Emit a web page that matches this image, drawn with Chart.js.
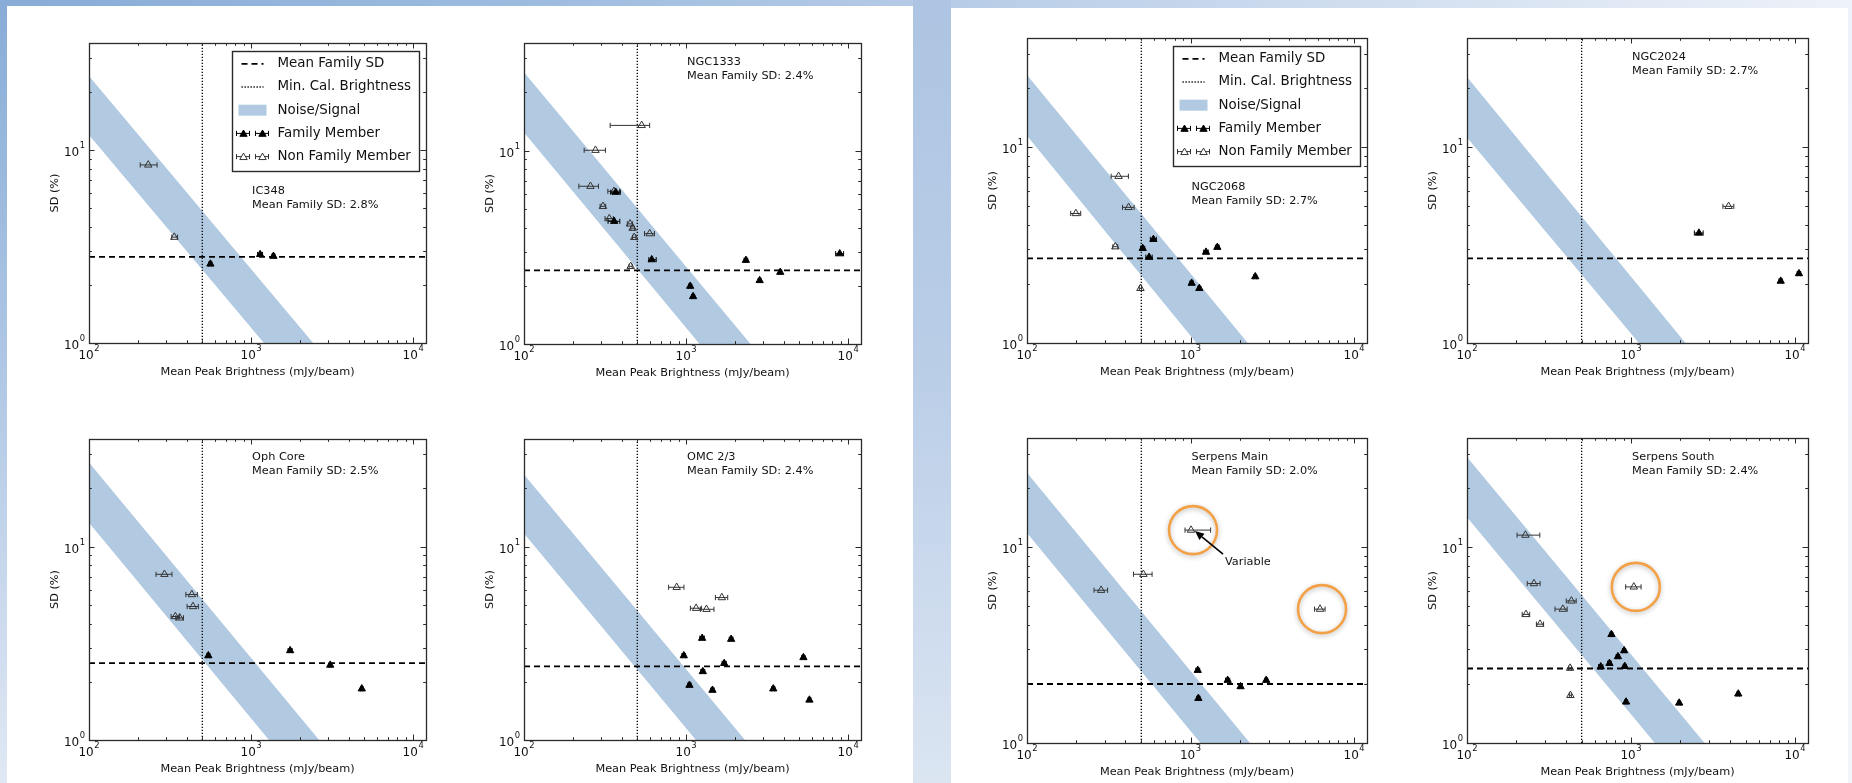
<!DOCTYPE html>
<html>
<head>
<meta charset="utf-8">
<title>Light-curve scatter by region</title>
<script src="https://cdn.jsdelivr.net/npm/chart.js@4.4.1/dist/chart.umd.min.js"></script>
<style>
  html, body { margin: 0; padding: 0; width: 1852px; height: 783px; overflow: hidden; }
  body {
    position: relative;
    background: linear-gradient(90deg, #88acd7 0%, #9dbbdf 28%, #b5cbe6 50%, #d2dff0 75%, #eef2f9 100%);
    font-family: "DejaVu Sans", sans-serif;
  }
  .strip, .sheet { position: absolute; }
  .sheet { background: #ffffff; }
  canvas { position: absolute; }
</style>
</head>
<body>
<div class="strip" style="left:0;top:0;width:7px;height:783px;background:linear-gradient(180deg,#88acd7 0%,#b2c9e5 50%,#e0e8f4 100%)"></div>
<div class="sheet" style="left:7px;top:6px;width:906px;height:777px"></div>
<div class="strip" style="left:913px;top:0;width:38px;height:783px;background:linear-gradient(180deg,#adc5e2 0%,#b9cde7 45%,#dbe5f2 100%)"></div>
<div class="sheet" style="left:951px;top:8px;width:897px;height:775px"></div>
<div class="strip" style="left:1848px;top:0;width:4px;height:783px;background:linear-gradient(180deg,#eef2f9,#f2f5fa)"></div>

<script>
// ---- shared values ----
const regionNames = ['IC348', 'NGC1333', 'NGC2068', 'NGC2024', 'Oph Core', 'OMC 2/3', 'Serpens Main', 'Serpens South'];
const meanFamilySD = [2.8, 2.4, 2.7, 2.7, 2.5, 2.4, 2.0, 2.4];
const minCalBrightness = 500;

// noise/signal band edges: SD at 100 mJy/beam and the brightness where SD reaches 1%
const bandUpperAt100 = [24.3, 25.4, 23.3, 22.8, 27.2, 23.6, 23.9, 28.8];
const bandUpperAtOne = [2415, 2500, 2240, 2150, 2630, 2310, 2310, 2810];
const bandLowerAt100 = [12.0, 12.4, 11.4, 11.2, 13.3, 11.7, 11.8, 14.2];
const bandLowerAtOne = [1200, 1211, 1087, 1117, 1290, 1150, 1150, 1397];

const xRange = [100, 12000];
const yRange = [1, 36];
const xTickValues = [100, 1000, 10000];
const xTickExponents = ['2', '3', '4'];
const yTickValues = [1, 10];
const yTickExponents = ['0', '1'];
const tickBase = '10';
const xAxisTitle = 'Mean Peak Brightness (mJy/beam)';
const yAxisTitle = 'SD (%)';
const legendLabels = ['Mean Family SD', 'Min. Cal. Brightness', 'Noise/Signal', 'Family Member', 'Non Family Member'];

// ---- per-region points: brightness (mJy/beam), SD (%), brightness error [minus, plus] ----
const ic348FamilyX = [561, 1137, 1374];
const ic348FamilyY = [2.57, 2.88, 2.82];
const ic348FamilyErr = [[12, 12], [40, 40], [30, 30]];
const ic348OtherX = [232, 336];
const ic348OtherY = [8.39, 3.54];
const ic348OtherErr = [[25, 31], [12, 16]];

const ngc1333FamilyX = [368, 360, 614, 1060, 1105, 2339, 2844, 3811, 8870];
const ngc1333FamilyY = [6.09, 4.31, 2.73, 1.99, 1.76, 2.71, 2.13, 2.35, 2.93];
const ngc1333FamilyErr = [[25, 25], [30, 30], [25, 40], [25, 25], [25, 25], [60, 60], [60, 60], [80, 80], [500, 500]];
const ngc1333OtherX = [532, 276, 257, 359, 307, 336, 451, 468, 479, 596, 455];
const ngc1333OtherY = [13.5, 10.04, 6.54, 6.16, 5.15, 4.45, 4.18, 3.97, 3.56, 3.72, 2.52];
const ngc1333OtherErr = [[192, 64], [41, 42], [39, 31], [30, 30], [12, 12], [20, 20], [17, 17], [12, 12], [12, 12], [42, 42], [10, 10]];

const ngc2068FamilyX = [510, 593, 558, 1244, 1459, 1016, 1132, 2488];
const ngc2068FamilyY = [3.04, 3.38, 2.74, 2.91, 3.08, 2.02, 1.90, 2.18];
const ngc2068FamilyErr = [[15, 15], [25, 25], [25, 25], [40, 40], [40, 40], [25, 25], [25, 25], [50, 50]];
const ngc2068OtherX = [199, 363, 418, 347, 494];
const ngc2068OtherY = [4.58, 7.09, 4.92, 3.10, 1.90];
const ngc2068OtherErr = [[14, 14], [36, 54], [34, 34], [12, 12], [8, 8]];

const ngc2024FamilyX = [2594, 8180, 10570];
const ngc2024FamilyY = [3.64, 2.07, 2.26];
const ngc2024FamilyErr = [[160, 160], [200, 200], [250, 250]];
const ngc2024OtherX = [3935];
const ngc2024OtherY = [4.98];
const ngc2024OtherErr = [[300, 300]];

const ophFamilyX = [545, 1742, 3077, 4820];
const ophFamilyY = [2.73, 2.90, 2.44, 1.84];
const ophFamilyErr = [[12, 12], [50, 50], [60, 60], [80, 80]];
const ophOtherX = [292, 431, 438, 341, 363];
const ophOtherY = [7.19, 5.65, 4.90, 4.35, 4.28];
const ophOtherErr = [[33, 33], [35, 35], [35, 35], [20, 20], [20, 20]];

const omcFamilyX = [1256, 1897, 968, 1718, 1268, 1049, 1455, 3451, 5296, 5768];
const omcFamilyY = [3.36, 3.32, 2.73, 2.49, 2.26, 1.92, 1.81, 1.84, 2.67, 1.61];
const omcFamilyErr = [[40, 40], [50, 50], [25, 25], [50, 50], [35, 35], [25, 25], [35, 35], [80, 80], [120, 120], [120, 120]];
const omcOtherX = [875, 1153, 1336, 1662];
const omcOtherY = [6.16, 4.80, 4.74, 5.45];
const omcOtherErr = [[95, 95], [90, 90], [110, 150], [145, 145]];

const serpMainFamilyX = [1107, 1117, 1687, 2023, 2904];
const serpMainFamilyY = [2.35, 1.69, 2.09, 1.94, 2.09];
const serpMainFamilyErr = [[30, 30], [25, 25], [50, 50], [40, 40], [60, 60]];
const serpMainOtherX = [1007, 284, 515, 6194];
const serpMainOtherY = [12.2, 6.02, 7.26, 4.82];
const serpMainOtherErr = [[82, 320], [27, 27], [67, 67], [460, 460]];

const serpSouthFamilyX = [760, 908, 832, 739, 654, 916, 933, 1967, 4510];
const serpSouthFamilyY = [3.58, 2.96, 2.76, 2.55, 2.45, 2.46, 1.62, 1.60, 1.78];
const serpSouthFamilyErr = [[15, 15], [20, 20], [20, 20], [20, 20], [20, 20], [20, 20], [15, 15], [40, 40], [80, 80]];
const serpSouthOtherX = [227, 256, 433, 384, 229, 279, 425, 427, 1040];
const serpSouthOtherY = [11.5, 6.51, 5.31, 4.82, 4.53, 4.04, 2.41, 1.75, 6.26];
const serpSouthOtherErr = [[25, 51], [23, 23], [30, 30], [40, 24], [12, 12], [14, 14], [8, 8], [6, 6], [112, 112]];

// highlighted non-family sources (index into the "Other" arrays)
const serpMainCircled = [0, 3];
const serpMainVariable = 0;
const serpSouthCircled = [8];

// ---- tables built from the arrays above ----
const familyX = [ic348FamilyX, ngc1333FamilyX, ngc2068FamilyX, ngc2024FamilyX, ophFamilyX, omcFamilyX, serpMainFamilyX, serpSouthFamilyX];
const familyY = [ic348FamilyY, ngc1333FamilyY, ngc2068FamilyY, ngc2024FamilyY, ophFamilyY, omcFamilyY, serpMainFamilyY, serpSouthFamilyY];
const familyErr = [ic348FamilyErr, ngc1333FamilyErr, ngc2068FamilyErr, ngc2024FamilyErr, ophFamilyErr, omcFamilyErr, serpMainFamilyErr, serpSouthFamilyErr];
const otherX = [ic348OtherX, ngc1333OtherX, ngc2068OtherX, ngc2024OtherX, ophOtherX, omcOtherX, serpMainOtherX, serpSouthOtherX];
const otherY = [ic348OtherY, ngc1333OtherY, ngc2068OtherY, ngc2024OtherY, ophOtherY, omcOtherY, serpMainOtherY, serpSouthOtherY];
const otherErr = [ic348OtherErr, ngc1333OtherErr, ngc2068OtherErr, ngc2024OtherErr, ophOtherErr, omcOtherErr, serpMainOtherErr, serpSouthOtherErr];

// ---- page layout: plot-area boxes on the slide ----
const panelBoxes = [
  { left: 89,   top: 43,  width: 337, height: 300, legend: true,  noteTop: 148 },
  { left: 524,  top: 43,  width: 337, height: 301, legend: false, noteTop: 19 },
  { left: 1027, top: 38,  width: 340, height: 305, legend: true,  noteTop: 149 },
  { left: 1467, top: 38,  width: 341, height: 305, legend: false, noteTop: 19 },
  { left: 89,   top: 439, width: 337, height: 301, legend: false, noteTop: 18 },
  { left: 524,  top: 439, width: 337, height: 301, legend: false, noteTop: 18 },
  { left: 1027, top: 438, width: 340, height: 305, legend: false, noteTop: 19 },
  { left: 1467, top: 438, width: 341, height: 305, legend: false, noteTop: 19 }
];

const FONT = '"DejaVu Sans", sans-serif';
const INK = '#111111';
const BAND = '#b2cae1';
const Y_AXIS_W = 50, X_AXIS_H = 45, PAD_T = 10, PAD_R = 14;

Chart.defaults.font.family = FONT;
Chart.defaults.color = INK;

function toPoints(xs, ys) { return xs.map((x, k) => ({ x: x, y: ys[k] })); }

// horizontal error bars drawn just before their markers
const errorBarPlugin = {
  id: 'errorBars',
  beforeDatasetDraw(chart, args) {
    const ds = chart.data.datasets[args.index];
    if (!ds.xErr) return;
    const { ctx, chartArea: a, scales: { x, y } } = chart;
    ctx.save();
    ctx.beginPath(); ctx.rect(a.left, a.top, a.right - a.left, a.bottom - a.top); ctx.clip();
    ctx.strokeStyle = ds.errColor; ctx.lineWidth = 1;
    ds.data.forEach((p, k) => {
      const e = ds.xErr[k];
      const x0 = x.getPixelForValue(p.x - e[0]);
      const x1 = x.getPixelForValue(p.x + e[1]);
      const py = y.getPixelForValue(p.y);
      ctx.beginPath();
      ctx.moveTo(x0, py); ctx.lineTo(x1, py);
      ctx.moveTo(x0, py - 2.6); ctx.lineTo(x0, py + 2.6);
      ctx.moveTo(x1, py - 2.6); ctx.lineTo(x1, py + 2.6);
      ctx.stroke();
    });
    ctx.restore();
  }
};

// power-of-ten label: base digits with a raised, smaller exponent
function drawPowerLabel(ctx, base, exp, anchorX, baselineY, align) {
  ctx.font = '12px ' + FONT;
  const wb = ctx.measureText(base).width;
  ctx.font = '8.4px ' + FONT;
  const we = ctx.measureText(exp).width;
  const total = wb + we + 0.5;
  const x0 = align === 'center' ? anchorX - total / 2 : anchorX - total;
  ctx.textAlign = 'left';
  ctx.textBaseline = 'alphabetic';
  ctx.font = '12px ' + FONT;
  ctx.fillText(base, x0, baselineY);
  ctx.font = '8.4px ' + FONT;
  ctx.fillText(exp, x0 + wb + 0.5, baselineY - 7.8);
}

// axes frame with inward major/minor ticks on all four sides, plus decade labels
const framePlugin = {
  id: 'axesFrame',
  afterDatasetsDraw(chart) {
    const { ctx, chartArea: a, scales: { x, y } } = chart;
    ctx.save();
    ctx.strokeStyle = '#2a2a2a'; ctx.lineWidth = 1;
    const xTicks = [], yTicks = [];
    for (let d = 100; d <= 10000; d *= 10) {
      for (let m = 1; m <= 9; m++) {
        const v = d * m;
        if (v >= xRange[0] && v <= xRange[1]) xTicks.push([v, m === 1]);
      }
    }
    for (let d = 1; d <= 10; d *= 10) {
      for (let m = 1; m <= 9; m++) {
        const v = d * m;
        if (v >= yRange[0] && v <= yRange[1]) yTicks.push([v, m === 1]);
      }
    }
    ctx.beginPath();
    xTicks.forEach(([v, major]) => {
      const px = Math.round(x.getPixelForValue(v)) + 0.5;
      const len = major ? 5.5 : 2.8;
      ctx.moveTo(px, a.bottom); ctx.lineTo(px, a.bottom - len);
      ctx.moveTo(px, a.top); ctx.lineTo(px, a.top + len);
    });
    yTicks.forEach(([v, major]) => {
      const py = Math.round(y.getPixelForValue(v)) + 0.5;
      const len = major ? 5.5 : 2.8;
      ctx.moveTo(a.left, py); ctx.lineTo(a.left + len, py);
      ctx.moveTo(a.right, py); ctx.lineTo(a.right - len, py);
    });
    ctx.stroke();
    ctx.lineWidth = 1.3;
    ctx.strokeRect(Math.round(a.left) + 0.5, Math.round(a.top) + 0.5, Math.round(a.right - a.left), Math.round(a.bottom - a.top));

    ctx.fillStyle = INK;
    xTickValues.forEach((v, k) => {
      drawPowerLabel(ctx, tickBase, xTickExponents[k], x.getPixelForValue(v), a.bottom + 15.5, 'center');
    });
    yTickValues.forEach((v, k) => {
      drawPowerLabel(ctx, tickBase, yTickExponents[k], a.left - 4, y.getPixelForValue(v) + 6, 'right');
    });
    ctx.restore();
  }
};

function drawTriangle(ctx, px, py, filled) {
  Chart.helpers.drawPoint(ctx, {
    pointStyle: 'triangle', radius: filled ? 4.2 : 4.3, rotation: 0,
    borderWidth: 1
  }, px, py);
}

function makeLegendPlugin() {
  return {
    id: 'slideLegend',
    afterDraw(chart) {
      const { ctx, chartArea: a } = chart;
      const w = 187, h = 120;
      const bx = Math.round(a.right - 7 - w) + 0.5, by = Math.round(a.top + 8) + 0.5;
      const rowY = k => by + 12.3 + k * 23.2;
      ctx.save();
      ctx.fillStyle = '#ffffff';
      ctx.fillRect(bx, by, w, h);
      ctx.strokeStyle = '#2a2a2a'; ctx.lineWidth = 1.4;
      ctx.strokeRect(bx, by, w, h);

      ctx.strokeStyle = '#000'; ctx.lineWidth = 1.8; ctx.setLineDash([6, 4]);
      ctx.beginPath(); ctx.moveTo(bx + 9, rowY(0)); ctx.lineTo(bx + 31, rowY(0)); ctx.stroke();
      ctx.lineWidth = 1.3; ctx.setLineDash([1.3, 1.7]);
      ctx.beginPath(); ctx.moveTo(bx + 9, rowY(1)); ctx.lineTo(bx + 31, rowY(1)); ctx.stroke();
      ctx.setLineDash([]);
      ctx.fillStyle = BAND;
      ctx.fillRect(bx + 6, rowY(2) - 5.5, 28, 11);

      [[3, true], [4, false]].forEach(([row, filled]) => {
        [bx + 11, bx + 30].forEach(mx => {
          const my = rowY(row);
          ctx.strokeStyle = filled ? '#000' : '#333'; ctx.lineWidth = 1;
          ctx.beginPath();
          ctx.moveTo(mx - 7, my); ctx.lineTo(mx + 6, my);
          ctx.moveTo(mx - 7, my - 2.6); ctx.lineTo(mx - 7, my + 2.6);
          ctx.moveTo(mx + 6, my - 2.6); ctx.lineTo(mx + 6, my + 2.6);
          ctx.stroke();
          ctx.fillStyle = filled ? '#000' : '#ffffff';
          ctx.strokeStyle = filled ? '#000' : '#333';
          ctx.lineWidth = 1;
          drawTriangle(ctx, mx, my + 0.8, filled);
        });
      });

      ctx.fillStyle = INK;
      ctx.font = '13.4px ' + FONT;
      ctx.textBaseline = 'middle'; ctx.textAlign = 'left';
      legendLabels.forEach((t, k) => ctx.fillText(t, bx + 45, rowY(k)));
      ctx.restore();
    }
  };
}

function makeNotePlugin(i) {
  return {
    id: 'regionNote',
    afterDraw(chart) {
      const { ctx, chartArea: a } = chart;
      const tx = a.left + 0.484 * (a.right - a.left);
      const ty = a.top + panelBoxes[i].noteTop;
      ctx.save();
      ctx.fillStyle = INK;
      ctx.font = '11.3px ' + FONT;
      ctx.textBaseline = 'middle'; ctx.textAlign = 'left';
      ctx.fillText(regionNames[i], tx, ty);
      ctx.fillText('Mean Family SD: ' + meanFamilySD[i].toFixed(1) + '%', tx, ty + 14.5);
      ctx.restore();
    }
  };
}

// orange rings around highlighted sources, plus the "Variable" pointer
function makeHighlightPlugin(i, circled, variableIdx) {
  return {
    id: 'highlight',
    afterDraw(chart) {
      const { ctx, scales: { x, y } } = chart;
      ctx.save();
      circled.forEach(k => {
        const px = x.getPixelForValue(otherX[i][k]);
        const py = y.getPixelForValue(otherY[i][k]);
        ctx.save();
        ctx.strokeStyle = '#f3a146'; ctx.lineWidth = 2.6;
        ctx.shadowColor = 'rgba(0,0,0,0.28)'; ctx.shadowBlur = 5; ctx.shadowOffsetY = 1.5;
        ctx.beginPath(); ctx.arc(px + 2, py, 24, 0, Math.PI * 2); ctx.stroke();
        ctx.restore();
      });
      if (variableIdx !== null) {
        const px = x.getPixelForValue(otherX[i][variableIdx]);
        const py = y.getPixelForValue(otherY[i][variableIdx]);
        const tail = [px + 32, py + 24], tip = [px + 4, py + 1];
        const ang = Math.atan2(tip[1] - tail[1], tip[0] - tail[0]);
        const hl = 9, hw = 4;
        const base = [tip[0] - hl * Math.cos(ang), tip[1] - hl * Math.sin(ang)];
        ctx.strokeStyle = '#000'; ctx.fillStyle = '#000'; ctx.lineWidth = 1.6;
        ctx.beginPath(); ctx.moveTo(tail[0], tail[1]); ctx.lineTo(base[0], base[1]); ctx.stroke();
        ctx.beginPath();
        ctx.moveTo(tip[0], tip[1]);
        ctx.lineTo(base[0] + hw * Math.sin(ang), base[1] - hw * Math.cos(ang));
        ctx.lineTo(base[0] - hw * Math.sin(ang), base[1] + hw * Math.cos(ang));
        ctx.closePath(); ctx.fill();
        ctx.fillStyle = INK;
        ctx.font = '11.3px ' + FONT;
        ctx.textBaseline = 'middle'; ctx.textAlign = 'left';
        ctx.fillText('Variable', px + 34, py + 32);
      }
      ctx.restore();
    }
  };
}

function buildConfig(i) {
  const plugins = [errorBarPlugin, framePlugin, makeNotePlugin(i)];
  if (panelBoxes[i].legend) plugins.push(makeLegendPlugin());
  if (i === 6) plugins.push(makeHighlightPlugin(i, serpMainCircled, serpMainVariable));
  if (i === 7) plugins.push(makeHighlightPlugin(i, serpSouthCircled, null));

  return {
    type: 'scatter',
    data: {
      datasets: [
        {
          type: 'line', label: 'band upper', order: 6,
          data: [{ x: xRange[0], y: bandUpperAt100[i] }, { x: bandUpperAtOne[i], y: yRange[0] }, { x: xRange[1], y: yRange[0] }],
          borderWidth: 0, pointRadius: 0, fill: false
        },
        {
          type: 'line', label: legendLabels[2], order: 5,
          data: [{ x: xRange[0], y: bandLowerAt100[i] }, { x: bandLowerAtOne[i], y: yRange[0] }, { x: xRange[1], y: yRange[0] }],
          borderWidth: 0, pointRadius: 0, fill: '-1', backgroundColor: BAND
        },
        {
          type: 'line', label: legendLabels[1], order: 4,
          data: [{ x: minCalBrightness, y: yRange[0] }, { x: minCalBrightness, y: yRange[1] }],
          borderColor: '#000', borderWidth: 1.3, borderDash: [1.3, 1.7], pointRadius: 0, fill: false
        },
        {
          type: 'line', label: legendLabels[0], order: 3,
          data: [{ x: xRange[0], y: meanFamilySD[i] }, { x: xRange[1], y: meanFamilySD[i] }],
          borderColor: '#000', borderWidth: 1.8, borderDash: [6, 4], pointRadius: 0, fill: false
        },
        {
          label: legendLabels[4], order: 2,
          data: toPoints(otherX[i], otherY[i]),
          xErr: otherErr[i], errColor: '#333',
          pointStyle: 'triangle', pointRadius: 4.3, borderWidth: 1,
          borderColor: '#333', backgroundColor: 'rgba(255,255,255,0)'
        },
        {
          label: legendLabels[3], order: 1,
          data: toPoints(familyX[i], familyY[i]),
          xErr: familyErr[i], errColor: '#000',
          pointStyle: 'triangle', pointRadius: 4.2, borderWidth: 1,
          borderColor: '#000', backgroundColor: '#000'
        }
      ]
    },
    options: {
      responsive: false,
      animation: false,
      devicePixelRatio: 1,
      events: [],
      layout: { padding: { left: 0, top: PAD_T, right: PAD_R, bottom: 0 } },
      plugins: { legend: { display: false }, tooltip: { enabled: false } },
      scales: {
        x: {
          type: 'logarithmic', position: 'bottom', min: xRange[0], max: xRange[1],
          grid: { display: false, drawTicks: false }, border: { display: false },
          afterBuildTicks: s => { s.ticks = xTickValues.map(v => ({ value: v })); },
          afterFit: s => { s.height = X_AXIS_H; },
          ticks: { display: false },
          title: { display: true, text: xAxisTitle, color: INK, font: { size: 11.3 }, padding: { top: 0, bottom: 9 } }
        },
        y: {
          type: 'logarithmic', position: 'left', min: yRange[0], max: yRange[1],
          grid: { display: false, drawTicks: false }, border: { display: false },
          afterBuildTicks: s => { s.ticks = yTickValues.map(v => ({ value: v })); },
          afterFit: s => { s.width = Y_AXIS_W; },
          ticks: { display: false },
          title: { display: true, text: yAxisTitle, color: INK, font: { size: 11.3 }, padding: { top: 9, bottom: 0 } }
        }
      }
    },
    plugins: plugins
  };
}

panelBoxes.forEach((box, i) => {
  const c = document.createElement('canvas');
  c.width = Y_AXIS_W + box.width + PAD_R;
  c.height = PAD_T + box.height + X_AXIS_H;
  c.style.left = (box.left - Y_AXIS_W) + 'px';
  c.style.top = (box.top - PAD_T) + 'px';
  c.style.width = c.width + 'px';
  c.style.height = c.height + 'px';
  document.body.appendChild(c);
  new Chart(c, buildConfig(i));
});
</script>
</body>
</html>
